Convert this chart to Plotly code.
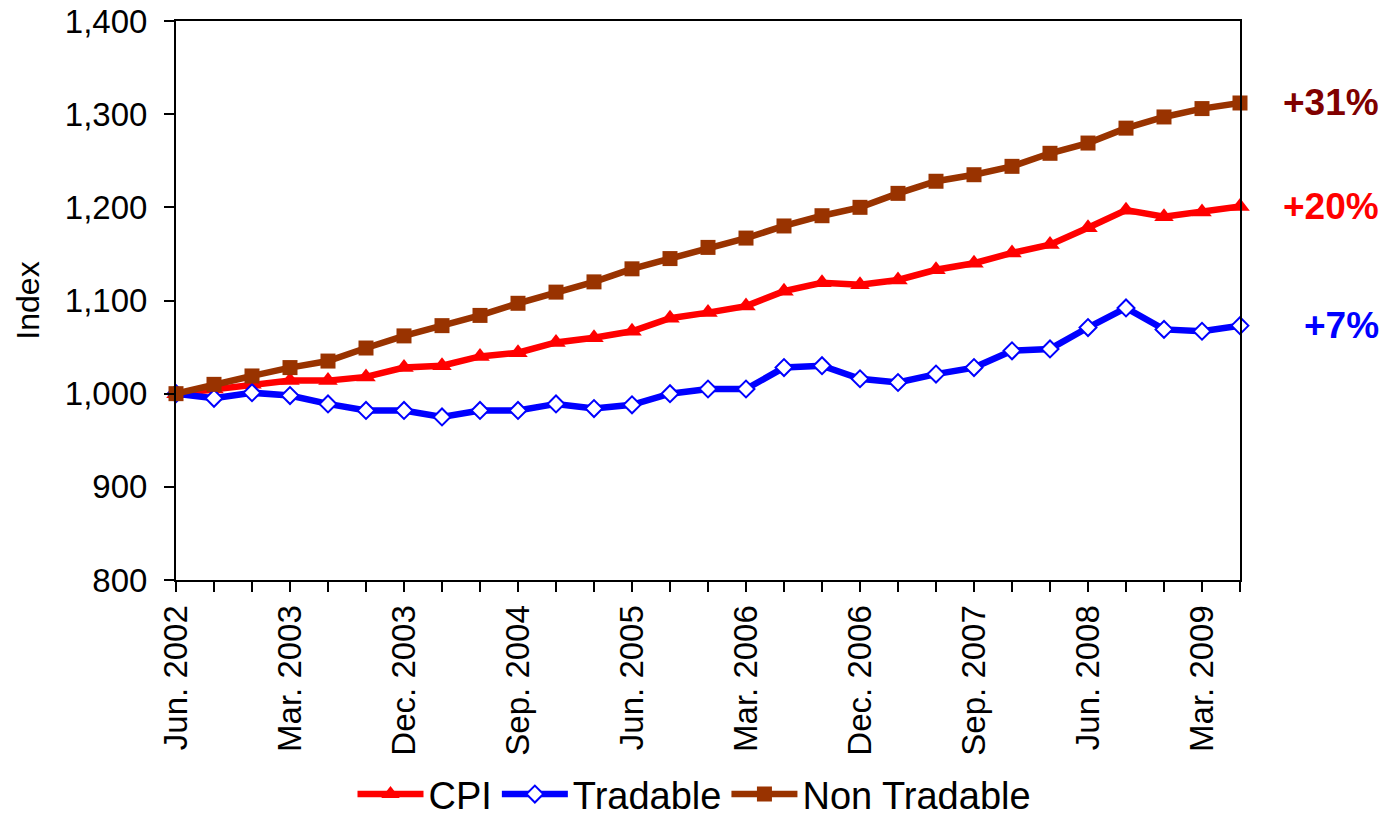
import plotly.graph_objects as go

months = ["Mar.", "Jun.", "Sep.", "Dec."]
quarters = []
for k in range(29):
    m = (1 + k) % 4
    y = 2002 + (1 + k) // 4
    quarters.append(f"{months[m]} {y}")

cpi = [1000, 1005, 1010, 1014, 1014, 1018, 1028, 1030, 1040, 1044, 1055, 1060, 1067, 1081, 1087,
       1094, 1110, 1119, 1117, 1122, 1133, 1140, 1151, 1160, 1178, 1197, 1190, 1195, 1201]
tradable = [1000, 995, 1001, 998, 989, 982, 982, 975, 982, 982, 989, 984, 988, 1000, 1005,
            1005, 1028, 1030, 1016, 1012, 1021, 1028, 1046, 1048, 1071, 1092, 1069, 1067, 1073]
non_tradable = [1000, 1010, 1019, 1028, 1035, 1049, 1062, 1073, 1084, 1097, 1109, 1120, 1134, 1145, 1157,
                1167, 1180, 1191, 1200, 1215, 1228, 1235, 1244, 1258, 1269, 1285, 1297, 1306, 1312]

change_labels = ["+31%", "+20%", "+7%"]
tick_step = 3

x = list(range(len(quarters)))
FONT = "Liberation Sans, Arial, sans-serif"

fig = go.Figure()
fig.add_trace(go.Scatter(x=x, y=cpi, name="CPI", mode="lines+markers",
                         line=dict(color="#FF0000", width=6.5),
                         marker=dict(symbol="triangle-up", size=17, color="#FF0000"),
                         cliponaxis=False))
fig.add_trace(go.Scatter(x=x, y=tradable, name="Tradable", mode="lines+markers",
                         line=dict(color="#0000FF", width=6.5),
                         marker=dict(symbol="diamond", size=13, color="white",
                                     line=dict(color="#0000FF", width=2)),
                         cliponaxis=False))
fig.add_trace(go.Scatter(x=x, y=non_tradable, name="Non Tradable", mode="lines+markers",
                         line=dict(color="#993300", width=6.5),
                         marker=dict(symbol="square", size=15, color="#993300"),
                         cliponaxis=False))

ann_colors = ["#800000", "#FF0000", "#0000FF"]
ann_vals = [non_tradable[-1], cpi[-1], tradable[-1]]
for txt, col, v in zip(change_labels, ann_colors, ann_vals):
    fig.add_annotation(x=1.1325, xref="paper", y=v, yref="y", text=f"<b>{txt}</b>",
                       showarrow=False, xanchor="right", yanchor="middle",
                       font=dict(family=FONT, size=37, color=col))

fig.update_layout(
    width=1389, height=824,
    margin=dict(l=176, r=149, t=21, b=244),
    paper_bgcolor="white", plot_bgcolor="white",
    font=dict(family=FONT, color="black"),
    showlegend=True,
    legend=dict(orientation="h", x=0.5, xanchor="center", xref="container",
                y=0.036, yanchor="middle", yref="container",
                font=dict(family=FONT, size=38, color="black"),
                itemwidth=66, traceorder="normal"),
    xaxis=dict(range=[0, len(quarters) - 1], tickvals=x[::tick_step],
               ticktext=quarters[::tick_step], tickangle=-90, automargin=False,
               ticks="outside", ticklen=10, tickwidth=2, tickcolor="black",
               showline=True, linecolor="black", linewidth=2, mirror=True,
               showgrid=False, zeroline=False,
               tickfont=dict(family=FONT, size=33, color="black"),
               minor=dict(dtick=1, tick0=0, ticks="outside", ticklen=10, tickwidth=2,
                          tickcolor="black", showgrid=False)),
    yaxis=dict(range=[800, 1400], dtick=100, tickformat=",d", automargin=False,
               ticks="outside", ticklen=10, tickwidth=2, tickcolor="black",
               showline=True, linecolor="black", linewidth=2, mirror=True,
               showgrid=False, zeroline=False, ticklabelstandoff=10,
               tickfont=dict(family=FONT, size=33, color="black"),
               title=dict(text="Index", standoff=16,
                          font=dict(family=FONT, size=32, color="black"))),
)

fig.write_html("out.html", config={"displayModeBar": False},
               post_script="document.body.style.margin='0';")
